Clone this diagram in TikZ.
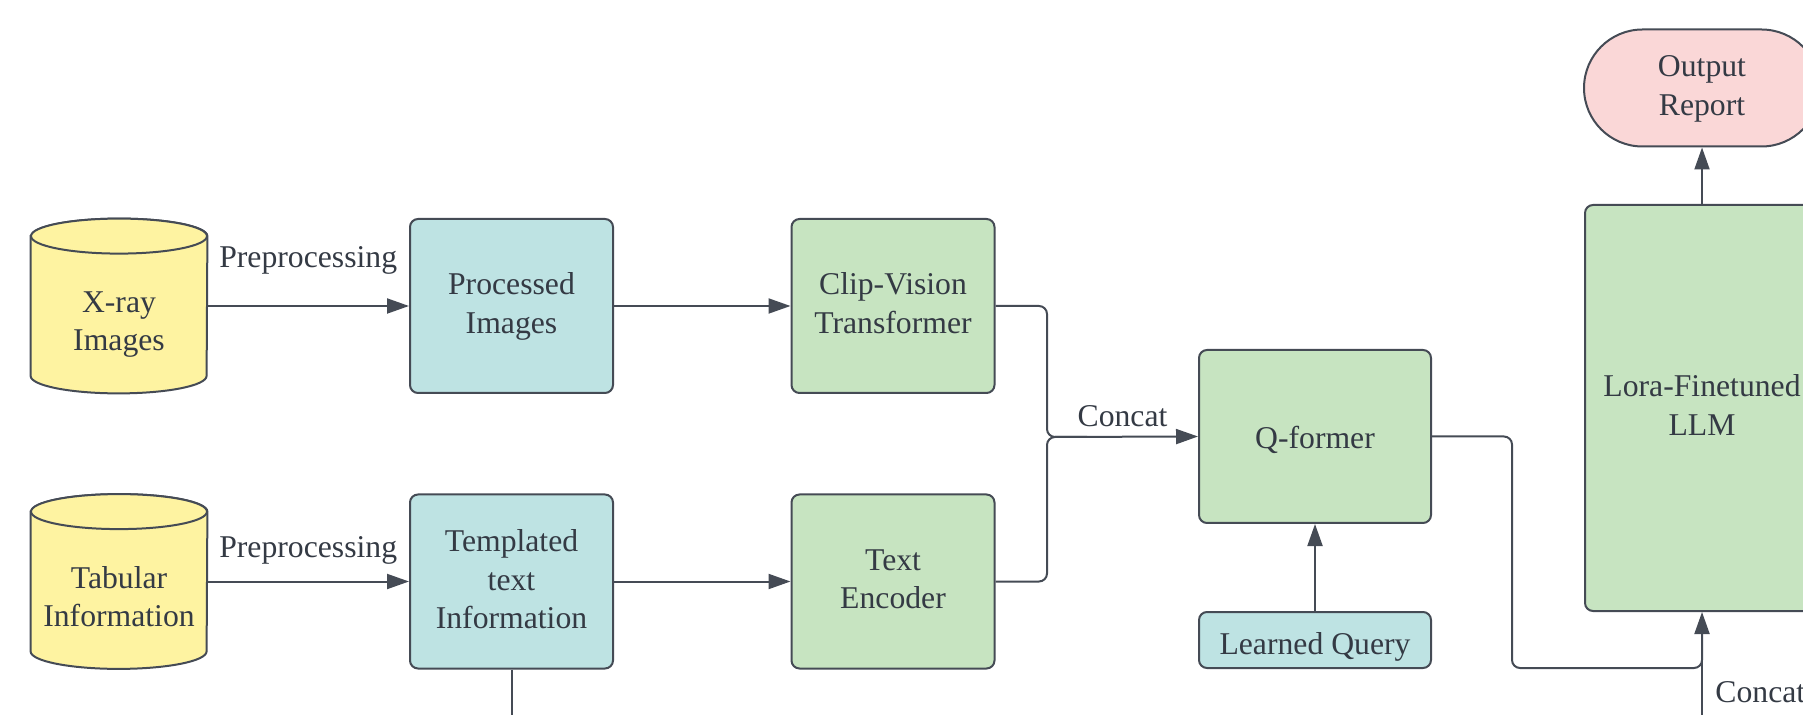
\documentclass[tikz,border=0pt]{standalone}
\usepackage{fontspec}
\setmainfont{Liberation Serif}
\usetikzlibrary{calc,arrows.meta,backgrounds}
\definecolor{ink}{HTML}{343A44}
\definecolor{edge}{HTML}{454B55}
\definecolor{dbyellow}{HTML}{FEF3A1}
\definecolor{tealbox}{HTML}{BEE3E3}
\definecolor{greenbox}{HTML}{C7E4C1}
\definecolor{pinkbox}{HTML}{FAD7D7}
% stacked lines whose first baseline sits #1 below the node centre
\newcommand\txtlines[2]{\raisebox{-#1}[0pt][0pt]{\begin{tabular}[t]{@{}c@{}}#2\end{tabular}}}
\begin{document}
\begin{tikzpicture}[x=0.5pt,y=-0.5pt,
  every node/.style={font=\fontsize{15.85pt}{19.25pt}\selectfont, text=ink, align=center, inner sep=0pt},
  box/.style={draw=edge, line width=1pt, rounded corners=4pt, minimum width=101.5pt, minimum height=87pt},
  tealnode/.style={box, fill=tealbox},
  greennode/.style={box, fill=greenbox},
  cylbody/.style={minimum width=88pt, minimum height=87pt},
  cylshape/.style={draw=edge, line width=1pt, fill=dbyellow},
  wire/.style={draw=edge, line width=1pt, rounded corners=4pt},
  conn/.style={wire, -{Triangle[length=11pt,width=7.5pt]}},
  lbl/.style={inner sep=0pt, anchor=base}
]
\useasboundingbox (0,0) rectangle (1803,715);
\clip (0,0) rectangle (1803,715);

% database cylinders
\node[cylbody] (xray) at (119,306) {\txtlines{3.25pt}{X-ray\\Images}};
\node[cylbody] (tab) at (119,581.5) {\txtlines{3.25pt}{Tabular\\Information}};
\begin{scope}[on background layer]
\foreach \c in {xray,tab}{
  \filldraw[cylshape] ($(\c.north west)+(0,17.5)$) -- ($(\c.south west)+(0,-17.5)$)
    arc[start angle=180,end angle=360,x radius=44pt,y radius=8.75pt]
    -- ($(\c.north east)+(0,17.5)$)
    arc[start angle=0,end angle=180,x radius=44pt,y radius=8.75pt] -- cycle;
  \draw[cylshape] ($(\c.north)+(0,17.5)$) ellipse[x radius=44pt,y radius=8.75pt];
}
\end{scope}

% processing blocks
\node[tealnode] (proc) at (511.5,306) {\txtlines{-5.5pt}{Processed\\Images}};
\node[tealnode] (templ) at (511.5,581.5) {\txtlines{-15pt}{Templated\\text\\Information}};
\node[greennode] (clip) at (893,306) {\txtlines{-5.5pt}{Clip-Vision\\Transformer}};
\node[greennode] (tenc) at (893,581.5) {\txtlines{-5.75pt}{Text\\Encoder}};
\node[greennode, minimum width=116pt, minimum height=86.5pt] (qf) at (1315,436.5) {\txtlines{6.25pt}{Q-former}};
\node[tealnode, minimum width=116pt, minimum height=28pt] (lq) at (1315,640) {\txtlines{7pt}{Learned Query}};
\node[greennode, minimum width=117pt, minimum height=203pt] (llm) at (1702,408) {\txtlines{-5.5pt}{Lora-Finetuned\\LLM}};
\node[draw=edge, line width=1pt, fill=pinkbox, rounded corners=29.25pt,
      minimum width=118pt, minimum height=58.5pt] (out) at (1702,88) {\txtlines{-5.5pt}{Output\\Report}};

% junctions and free ends
\coordinate (merge) at (1047,437);
\coordinate (qbend) at (1512,668);
\coordinate (llmin) at (1702,715);
\coordinate (tdown) at (511.5,715);

% connectors
\draw[conn] (xray.east) -- node[lbl, yshift=19pt] {Preprocessing} (proc.west);
\draw[conn] (tab.east) -- node[lbl, yshift=11.75pt] {Preprocessing} (templ.west);
\draw[conn] (proc.east) -- (clip.west);
\draw[conn] (templ.east) -- (tenc.west);
\draw[conn] (clip.east) -| (merge) -- node[lbl, yshift=5pt] {Concat} (qf.west);
\draw[wire] (tenc.east) -| (merge) -- ($(merge)+(40,0)$);
\draw[conn] (lq.north) -- (qf.south);
\draw[conn] (qf.east) -| (qbend) -| (llm.south);
\draw[wire, rounded corners=0pt] (llmin) -- ($(llm.south)+(0,30)$);
\node[lbl, anchor=base west] (concatin) at ($(llmin)+(13,-13)$) {Concat};
\draw[conn] (llm.north) -- (out.south);
\draw[wire] (templ.south) -- (tdown);
\end{tikzpicture}
\end{document}
